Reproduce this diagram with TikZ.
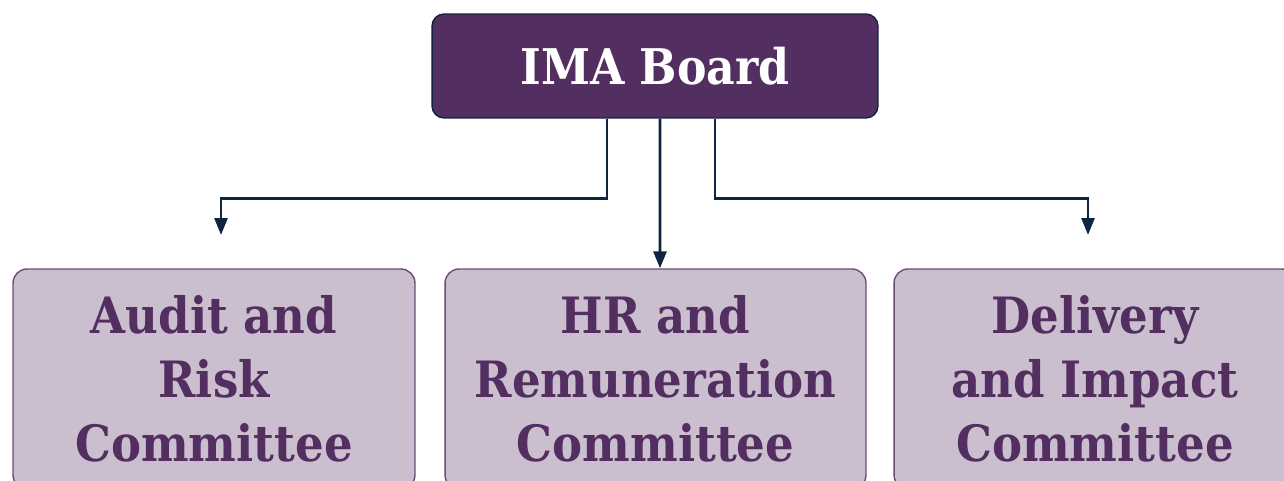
\documentclass[tikz,border=0pt]{standalone}
\usepackage{fontspec}
\setmainfont{DejaVu Serif Condensed}
\usetikzlibrary{arrows.meta, calc, positioning}
\definecolor{boardpurple}{RGB}{83,46,96}
\definecolor{committeelilac}{RGB}{203,191,207}
\definecolor{committeeedge}{RGB}{107,74,119}
\definecolor{linknavy}{RGB}{15,36,64}

\begin{document}
\begin{tikzpicture}[x=0.02cm, y=0.02cm,
  board/.style={draw=linknavy, line width=0.8pt, fill=boardpurple, rounded corners=0.24cm,
    minimum width=8.92cm, minimum height=2.08cm, text=white,
    font=\fontsize{28}{30}\selectfont\bfseries},
  committee/.style={draw=committeeedge, line width=0.8pt, fill=committeelilac, rounded corners=0.28cm,
    minimum height=4.4cm, align=center, text=boardpurple,
    font=\fontsize{28.5}{36.4}\selectfont\bfseries},
  link/.style={draw=linknavy, line width=1.6pt, -{Triangle[length=0.34cm, width=0.26cm]}}]
                        \clip (0,0) rectangle (1284,480);
                        \node[board] (board) at (655, 414) {IMA Board};
                        \node[committee, minimum width=8.04cm] (audit) at (214, 101) {Audit and\\Risk\\Committee};
                        \node[committee, minimum width=8.42cm] (hr) at (655.5, 101) {HR and\\Remuneration\\Committee};
                        \node[committee, minimum width=8.04cm] (delivery) at (1095, 101) {Delivery\\and Impact\\Committee};
                        \coordinate (auditin) at (221, 245);
                        \coordinate (deliveryin) at (1088, 245);
                        \draw[link] ($(board.south)+(-48,0)$) -- ++(0,-80) -| (auditin);
                        \draw[link] ($(board.south)+(5,0)$) -- ($(hr.north)+(4.5,0)$);
                        \draw[link] ($(board.south)+(60,0)$) -- ++(0,-80) -| (deliveryin);
                    \end{tikzpicture}
\end{document}
